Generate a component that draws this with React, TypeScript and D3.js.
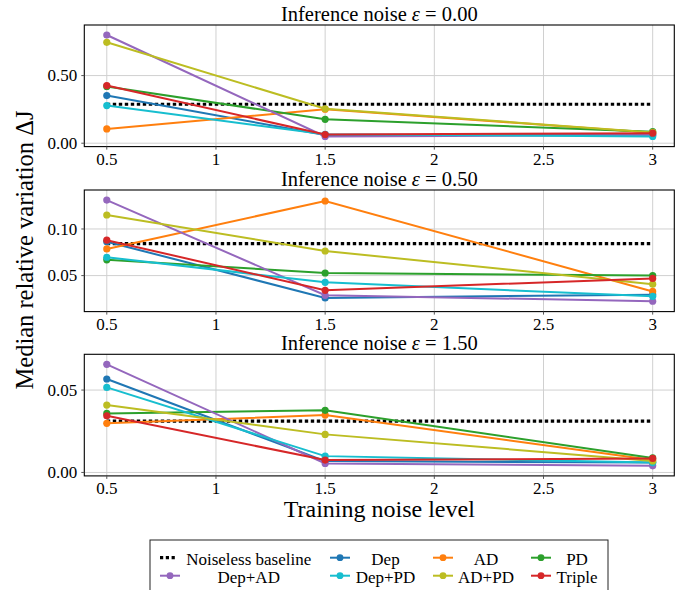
import React from "react";
import * as d3 from "d3";

const trainingNoise = [0.5, 1.5, 3];
const xTicks = [0.5, 1, 1.5, 2, 2.5, 3];
const xTickLabels = ["0.5", "1", "1.5", "2", "2.5", "3"];

const seriesNames = ["Dep", "AD", "PD", "Dep+AD", "Dep+PD", "AD+PD", "Triple"];
const seriesColors = ["#1f77b4", "#ff7f0e", "#2ca02c", "#9467bd", "#17becf", "#bcbd22", "#d62728"];

const epsLabels = ["0.00", "0.50", "1.50"];

// Panel ε = 0.00
const eps000 = {
  Dep: [0.352, 0.061, 0.062],
  AD: [0.106, 0.251, 0.078],
  PD: [0.42, 0.177, 0.085],
  "Dep+AD": [0.8, 0.05, 0.06],
  "Dep+PD": [0.278, 0.066, 0.05],
  "AD+PD": [0.746, 0.255, 0.08],
  Triple: [0.426, 0.064, 0.074],
};
// Panel ε = 0.50
const eps050 = {
  Dep: [0.0864, 0.026, 0.0296],
  AD: [0.0786, 0.13, 0.033],
  PD: [0.0669, 0.0528, 0.05],
  "Dep+AD": [0.131, 0.0289, 0.0225],
  "Dep+PD": [0.0697, 0.0428, 0.0278],
  "AD+PD": [0.115, 0.0764, 0.0408],
  Triple: [0.088, 0.0342, 0.047],
};
// Panel ε = 1.50
const eps150 = {
  Dep: [0.0567, 0.0069, 0.006],
  AD: [0.0298, 0.0348, 0.0075],
  PD: [0.0358, 0.0377, 0.0088],
  "Dep+AD": [0.0656, 0.0055, 0.004],
  "Dep+PD": [0.0516, 0.0099, 0.006],
  "AD+PD": [0.0409, 0.0231, 0.007],
  Triple: [0.0344, 0.0075, 0.0085],
};
const baselines = [0.288, 0.0842, 0.0312];
const yDomains: [number, number][] = [
  [-0.025, 0.874],
  [0.0114, 0.1418],
  [-0.0021, 0.0717],
];
const yTicks = [
  [0, 0.5],
  [0.05, 0.1],
  [0, 0.05],
];

const panelData = [eps000, eps050, eps150];

const legendLabels = ["Noiseless baseline", ...seriesNames];

const FONT = "'Liberation Serif', 'Times New Roman', serif";

const W = 694;
const H = 590;
const left = 84.3;
const right = 674.3;
const panelTops = [25, 190, 354.3];
const panelH = 121.6;

function Panel({ idx }: { idx: number }) {
  const top = panelTops[idx];
  const bottom = top + panelH;
  const x = d3.scaleLinear().domain([0.397, 3.099]).range([left, right]);
  const y = d3.scaleLinear().domain(yDomains[idx]).range([bottom, top]);
  const data = panelData[idx] as Record<string, number[]>;
  const line = d3
    .line<number>()
    .x((_, i) => x(trainingNoise[i]))
    .y((d) => y(d));
  const fmt = d3.format(".2f");
  const cx = (left + right) / 2;
  return (
    <g>
      {xTicks.map((t) => (
        <line key={"gx" + t} x1={x(t)} x2={x(t)} y1={top} y2={bottom} stroke="#d0d0d0" strokeWidth={1} />
      ))}
      {yTicks[idx].map((t) => (
        <line key={"gy" + t} x1={left} x2={right} y1={y(t)} y2={y(t)} stroke="#d0d0d0" strokeWidth={1} />
      ))}
      <line
        x1={x(trainingNoise[0])}
        x2={x(trainingNoise[trainingNoise.length - 1])}
        y1={y(baselines[idx])}
        y2={y(baselines[idx])}
        stroke="#000"
        strokeWidth={3.2}
        strokeDasharray="3.4,2.6"
      />
      {seriesNames.map((name, si) => (
        <g key={name}>
          <path d={line(data[name]) || ""} fill="none" stroke={seriesColors[si]} strokeWidth={2} />
          {data[name].map((v, i) => (
            <circle key={i} cx={x(trainingNoise[i])} cy={y(v)} r={3.6} fill={seriesColors[si]} />
          ))}
        </g>
      ))}
      <rect x={left} y={top} width={right - left} height={bottom - top} fill="none" stroke="#000" strokeWidth={1.1} />
      {yTicks[idx].map((t) => (
        <g key={"yt" + t}>
          <line x1={left - 3} x2={left} y1={y(t)} y2={y(t)} stroke="#555" strokeWidth={1} />
          <text x={left - 7} y={y(t)} dy="0.34em" textAnchor="end" fontSize={17} fontFamily={FONT}>
            {fmt(t)}
          </text>
        </g>
      ))}
      {xTicks.map((t, i) => (
        <g key={"xt" + t}>
          <line x1={x(t)} x2={x(t)} y1={bottom} y2={bottom + 3} stroke="#555" strokeWidth={1} />
          <text x={x(t)} y={bottom + 18} textAnchor="middle" fontSize={17} fontFamily={FONT}>
            {xTickLabels[i]}
          </text>
        </g>
      ))}
      <text x={cx} y={top - 4.5} textAnchor="middle" fontSize={20.5} fontFamily={FONT}>
        Inference noise <tspan fontStyle="italic">ε</tspan> = {epsLabels[idx]}
      </text>
    </g>
  );
}

function Legend() {
  const colHandle = [160, 330, 433, 531];
  const colText = [248.7, 385.5, 486, 577];
  const rowY = [557.7, 575.7];
  return (
    <g>
      <rect x={150} y={540} width={458} height={70} fill="#fff" stroke="#222" strokeWidth={1} />
      {legendLabels.map((lab, i) => {
        const r = Math.floor(i / 4);
        const c = i % 4;
        const hx = colHandle[c];
        const yy = rowY[r];
        const isBase = i === 0;
        const color = isBase ? "#000" : seriesColors[i - 1];
        return (
          <g key={lab}>
            {isBase ? (
              <line x1={hx} x2={hx + 16} y1={yy} y2={yy} stroke="#000" strokeWidth={3.2} strokeDasharray="3.2,2.6" />
            ) : (
              <g>
                <line x1={hx} x2={hx + 20} y1={yy} y2={yy} stroke={color} strokeWidth={2} />
                <circle cx={hx + 10} cy={yy} r={3.4} fill={color} />
              </g>
            )}
            <text x={colText[c]} y={yy + 4} dy="0.18em" textAnchor="middle" fontSize={17} fontFamily={FONT}>
              {lab}
            </text>
          </g>
        );
      })}
    </g>
  );
}

export default function App() {
  return (
    <svg
      width={W}
      height={H}
      viewBox={`0 0 ${W} ${H}`}
      style={{ position: "absolute", left: 0, top: 0, background: "#fff" }}
    >
      <rect x={0} y={0} width={W} height={H} fill="#fff" />
      {[0, 1, 2].map((i) => (
        <Panel key={i} idx={i} />
      ))}
      <text transform={`translate(33,250) rotate(-90)`} textAnchor="middle" fontSize={24.5} fontFamily={FONT}>
        Median relative variation ΔJ
      </text>
      <text x={(left + right) / 2} y={517} textAnchor="middle" fontSize={24} fontFamily={FONT}>
        Training noise level
      </text>
      <Legend />
    </svg>
  );
}
